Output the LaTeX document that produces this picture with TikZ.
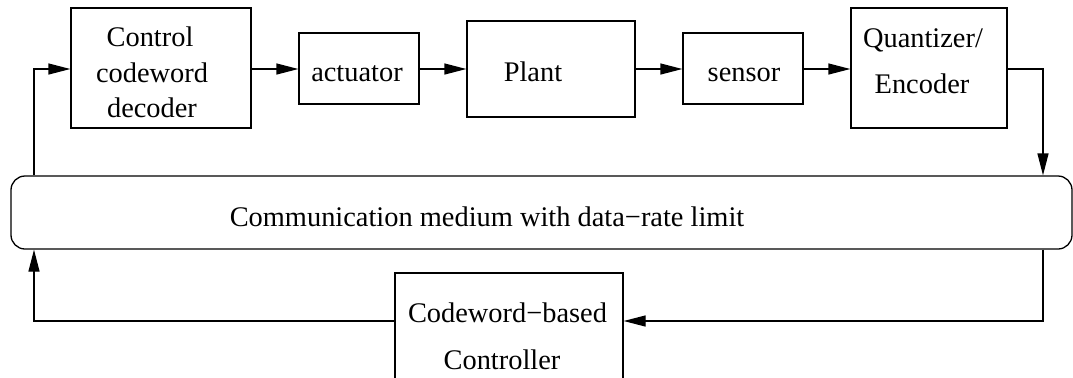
\documentclass[tikz,border=0pt]{standalone}
\usepackage{fontspec}
\setmainfont{Liberation Serif}
\usetikzlibrary{arrows.meta}
\begin{document}
\begin{tikzpicture}[x=0.5pt,y=-0.5pt,
  line width=0.65pt,
  box/.style={draw, rectangle, inner sep=0pt},
  txt/.style={inner sep=0pt, anchor=base, font=\fontsize{14.2}{17}\selectfont},
  arr/.style={-{Triangle[length=11pt,width=5.5pt]}}]
\useasboundingbox (0,0) rectangle (1073,377);
% boxes
\node[box, minimum width=90pt, minimum height=60pt] (dec) at (161,68) {};
\node[box, minimum width=60pt, minimum height=35.5pt] (act) at (359,68.5) {};
\node[box, minimum width=84pt, minimum height=48pt] (plant) at (551,69) {};
\node[box, minimum width=60pt, minimum height=35.5pt] (sens) at (743,68.5) {};
\node[box, minimum width=78pt, minimum height=60pt] (quant) at (929,68) {};
\node[box, rounded corners=7pt, minimum width=530.5pt, minimum height=36.5pt] (med) at (541.5,212.5) {};
\node[box, minimum width=114pt, minimum height=70pt] (ctrl) at (509,343) {};
% texts
\node[txt] (dec1) at (150,46) {Control};
\node[txt] (dec2) at (152,82) {codeword};
\node[txt] (dec3) at (152,117) {decoder};
\node[txt] (actt) at (357,81) {actuator};
\node[txt] (plantt) at (533,81) {Plant};
\node[txt] (senst) at (744,81) {sensor};
\node[txt] (quant1) at (923,47) {Quantizer/};
\node[txt] (quant2) at (922,93) {Encoder};
\node[txt] (medt) at (487,226) {Communication medium with data−rate limit};
\node[txt] (ctrl1) at (507.5,322) {Codeword−based};
\node[txt] (ctrl2) at (502,369) {Controller};
% coordinates
\coordinate (lt) at (34,69);
\coordinate (rt) at (1043,69);
\coordinate (rb) at (1043,321);
\coordinate (lb) at (34,321);
% connectors
\draw[arr] (med.north -| lt) -- (lt) -- (dec.west |- lt);
\draw[arr] (dec.east |- lt) -- (act.west |- lt);
\draw[arr] (act.east |- lt) -- (plant.west |- lt);
\draw[arr] (plant.east |- lt) -- (sens.west |- lt);
\draw[arr] (sens.east |- lt) -- (quant.west |- lt);
\draw[arr] (quant.east |- rt) -- (rt) -- (med.north -| rt);
\draw[arr] (med.south -| rb) -- (rb) -- (ctrl.east |- rb);
\draw[arr] (ctrl.west |- lb) -- (lb) -- (med.south -| lb);
\end{tikzpicture}
\end{document}
